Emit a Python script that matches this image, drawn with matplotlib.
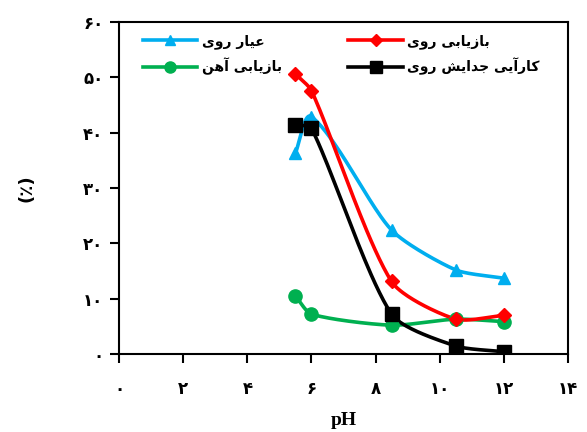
import matplotlib
matplotlib.use('Agg')
import matplotlib.pyplot as plt
import numpy as np

# pH values and measured percentages
ph = [5.5, 6.0, 8.5, 10.5, 12.0]
zn_grade = [36.3, 42.9, 22.4, 15.2, 13.7]
zn_recovery = [50.6, 47.6, 13.1, 6.3, 7.0]
fe_recovery = [10.5, 7.2, 5.2, 6.3, 5.85]
zn_separation = [41.4, 40.8, 7.2, 1.45, 0.4]

series_names = ['عیار روی', 'بازیابی آهن', 'بازیابی روی', 'کارآیی جدایش روی']
x_ticks = [0, 2, 4, 6, 8, 10, 12, 14]
y_ticks = [0, 10, 20, 30, 40, 50, 60]

# Arabic presentation forms: isolated, final, initial, medial
FORMS = {
    'ا': ('\uFE8D', '\uFE8E', None, None),
    'آ': ('\uFE81', '\uFE82', None, None),
    'ر': ('\uFEAD', '\uFEAE', None, None),
    'ز': ('\uFEAF', '\uFEB0', None, None),
    'و': ('\uFEED', '\uFEEE', None, None),
    'د': ('\uFEA9', '\uFEAA', None, None),
    'ب': ('\uFE8F', '\uFE90', '\uFE91', '\uFE92'),
    'ع': ('\uFEC9', '\uFECA', '\uFECB', '\uFECC'),
    'ه': ('\uFEE9', '\uFEEA', '\uFEEB', '\uFEEC'),
    'ن': ('\uFEE5', '\uFEE6', '\uFEE7', '\uFEE8'),
    'ج': ('\uFE9D', '\uFE9E', '\uFE9F', '\uFEA0'),
    'ش': ('\uFEB5', '\uFEB6', '\uFEB7', '\uFEB8'),
    'ی': ('\uFBFC', '\uFBFD', '\uFBFE', '\uFBFF'),
    'ک': ('\uFB8E', '\uFB8F', '\uFB90', '\uFB91'),
}


def shape(text):
    """Join Persian letters and reorder them right-to-left."""
    out = []
    for i, ch in enumerate(text):
        if ch not in FORMS:
            out.append(ch)
            continue
        iso, fin, ini, med = FORMS[ch]
        prev = text[i - 1] if i > 0 else ''
        nxt = text[i + 1] if i + 1 < len(text) else ''
        join_prev = prev in FORMS and FORMS[prev][2] is not None
        join_next = ini is not None and nxt in FORMS
        if join_prev and join_next:
            out.append(med)
        elif join_prev:
            out.append(fin)
        elif join_next:
            out.append(ini)
        else:
            out.append(iso)
    return ''.join(reversed(out))


def fa_digits(v):
    return ''.join('۰۱۲۳۴۵۶۷۸۹'[int(c)] for c in str(v))


def smooth(x, y, sx=32.0, sy=5.53, n=40, k=0.7):
    """Parametric Hermite curve through the points, tangents scaled by chord length."""
    P = np.column_stack([np.asarray(x, float) * sx, np.asarray(y, float) * sy])
    D = np.empty_like(P)
    D[1:-1] = P[2:] - P[:-2]
    D[0] = P[1] - P[0]
    D[-1] = P[-1] - P[-2]
    D /= np.linalg.norm(D, axis=1)[:, None]
    out = []
    for i in range(len(P) - 1):
        L = k * np.linalg.norm(P[i + 1] - P[i])
        t = np.linspace(0, 1, n, endpoint=(i == len(P) - 2))[:, None]
        h00 = 2 * t**3 - 3 * t**2 + 1
        h10 = t**3 - 2 * t**2 + t
        h01 = -2 * t**3 + 3 * t**2
        h11 = t**3 - t**2
        out.append(h00 * P[i] + h10 * L * D[i] + h01 * P[i + 1] + h11 * L * D[i + 1])
    c = np.vstack(out)
    return c[:, 0] / sx, c[:, 1] / sy


plt.rcParams['font.family'] = ['DejaVu Sans']
plt.rcParams['font.weight'] = 'bold'

fig = plt.figure(figsize=(5.87, 4.32), dpi=100)
ax = fig.add_axes([0.2033, 0.1806, 0.7637, 0.7685])

styles = [
    (zn_grade, '#00AEEF', '^', 9),
    (fe_recovery, '#00B050', 'o', 9.5),
    (zn_recovery, '#FF0000', 'D', 7.5),
    (zn_separation, '#000000', 's', 10),
]
handles = []
for (vals, color, marker, ms), name in zip(styles, series_names):
    cx, cy = smooth(ph, vals)
    ax.plot(cx, cy, color=color, lw=2.6, zorder=2)
    ax.plot(ph, vals, linestyle='none', marker=marker, color=color, ms=ms, zorder=3)
    h, = ax.plot([], [], color=color, lw=2.6, marker=marker, ms=ms - 1.5, label=shape(name))
    handles.append(h)

ax.set_xlim(0, 14)
ax.set_ylim(0, 60)
ax.set_xticks(x_ticks)
ax.set_yticks(y_ticks)
ax.set_xticklabels([fa_digits(v) for v in x_ticks])
ax.set_yticklabels([fa_digits(v) for v in y_ticks])
ax.tick_params(axis='both', direction='out', length=6.5, width=1.5, labelsize=12)
ax.tick_params(axis='x', pad=12)
ax.tick_params(axis='y', pad=5)
for sp in ax.spines.values():
    sp.set_linewidth(1.5)

ax.set_xlabel('pH', fontsize=14, fontweight='bold', family='Liberation Serif', labelpad=10)
ax.set_ylabel('(٪)', fontsize=13, fontweight='bold', labelpad=34)

leg = ax.legend(handles=handles, ncol=2, loc='upper left', bbox_to_anchor=(0.052, 0.964),
                frameon=False, fontsize=10, handlelength=3.9, handletextpad=0.35,
                columnspacing=4.8, labelspacing=0.65, numpoints=1,
                borderpad=0, borderaxespad=0)

fig.savefig('out.png', dpi=100)
